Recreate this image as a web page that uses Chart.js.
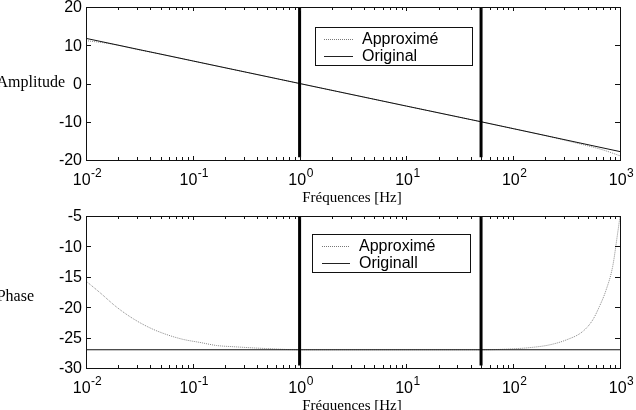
<!DOCTYPE html>
<html>
<head>
<meta charset="utf-8">
<script src="https://cdn.jsdelivr.net/npm/chart.js@4/dist/chart.umd.min.js"></script>
<style>
html,body{margin:0;padding:0;background:#fff;overflow:hidden;}
.wrap{position:absolute;left:0;width:636px;height:205px;}
</style>
</head>
<body>
<div class="wrap" style="top:0"><canvas id="c1" width="636" height="205"></canvas></div>
<div class="wrap" style="top:205px"><canvas id="c2" width="636" height="205"></canvas></div>
<script>
// ---------- data ----------
const xTickExponents = [-2, -1, 0, 1, 2, 3];
const markerFreqs = [1, 50];

const ampTicks = [20, 10, 0, -10, -20];
const ampOrigFreq = [0.01, 0.1, 1, 10, 50, 100, 1000];
const ampOrigVal  = [11.8, 5.9, 0, -5.9, -10.0, -11.8, -17.8];
const ampApproxFreq = [0.01, 0.015, 0.02, 0.03, 0.05, 0.1, 1, 10, 50, 100, 200, 300, 500, 700, 1000];
const ampApproxVal  = [11.2, 10.6, 10.0, 8.9, 7.7, 5.9, 0, -5.9, -10.0, -11.8, -13.6, -14.8, -16.3, -17.4, -18.9];

const phaseTicks = [-5, -10, -15, -20, -25, -30];
const phaseOrigFreq = [0.01, 1000];
const phaseOrigVal  = [-27, -27];
const phaseApproxFreq = [0.01, 0.0135, 0.0194, 0.0277, 0.0397, 0.0569, 0.0815, 0.117, 0.167, 0.24, 0.49, 1, 10, 50, 86, 152, 218, 312, 447, 555, 641, 740, 854, 951, 1000];
const phaseApproxVal  = [-15.7, -17.6, -20.0, -21.9, -23.4, -24.5, -25.3, -25.8, -26.3, -26.5, -26.8, -27, -27, -27, -26.9, -26.6, -26.2, -25.4, -24.0, -22.1, -19.9, -17.2, -13.3, -7.8, -5.1];

const legendLabelsTop = ['Approximé', 'Original'];
const legendLabelsBottom = ['Approximé', 'Originall'];

// ---------- helpers ----------
const pts = (xs, ys) => xs.map((x, i) => ({x: x, y: ys[i]}));
const SANS = '"Liberation Sans", Arial, sans-serif';
const SERIF = '"Liberation Serif", "Times New Roman", serif';

function markerDatasets(yTop, yBot) {
  return markerFreqs.map(f => ({
    data: [{x: f, y: yTop}, {x: f, y: yBot}],
    borderColor: '#000', borderWidth: 3, pointRadius: 0, order: 0
  }));
}

function framePlugin(cfg) {
  return {
    id: 'frame_' + cfg.id,
    afterDraw(chart) {
      const ctx = chart.ctx;
      const a = chart.chartArea;
      const xs = chart.scales.x, ys = chart.scales.y;
      ctx.save();
      ctx.strokeStyle = '#111';
      ctx.lineWidth = 1;
      // frame
      ctx.strokeRect(Math.round(a.left) + 0.5, Math.round(a.top) + 0.5, Math.round(a.right - a.left), Math.round(a.bottom - a.top));
      // x ticks (log major + minor), inward top & bottom
      ctx.beginPath();
      for (let e = -2; e <= 3; e++) {
        for (let m = 1; m <= 9; m++) {
          const v = m * Math.pow(10, e);
          if (v > 1000 + 1e-9) break;
          const px = Math.round(xs.getPixelForValue(v)) + 0.5;
          const len = (m === 1) ? 4 : 3;
          ctx.moveTo(px, a.bottom); ctx.lineTo(px, a.bottom - len);
          ctx.moveTo(px, a.top); ctx.lineTo(px, a.top + len);
        }
      }
      // y ticks, inward left & right
      cfg.yTicks.forEach(t => {
        const py = Math.round(ys.getPixelForValue(t)) + 0.5;
        ctx.moveTo(a.left, py); ctx.lineTo(a.left + 5, py);
        ctx.moveTo(a.right, py); ctx.lineTo(a.right - 5, py);
      });
      ctx.stroke();

      ctx.fillStyle = '#000';
      // y tick labels
      ctx.font = '16px ' + SANS;
      ctx.textAlign = 'right';
      ctx.textBaseline = 'middle';
      cfg.yTicks.forEach(t => {
        ctx.fillText(String(t), a.left - 4, ys.getPixelForValue(t) + 1);
      });
      // x tick labels 10^e
      ctx.textBaseline = 'alphabetic';
      ctx.textAlign = 'left';
      xTickExponents.forEach(e => {
        const px = xs.getPixelForValue(Math.pow(10, e));
        ctx.font = '16px ' + SANS;
        const w1 = ctx.measureText('10').width;
        ctx.font = '12px ' + SANS;
        const sup = String(e);
        const w2 = ctx.measureText(sup).width;
        const x0 = px - (w1 + w2) / 2 + 1;
        ctx.font = '16px ' + SANS;
        ctx.fillText('10', x0, a.bottom + 25);
        ctx.font = '12px ' + SANS;
        ctx.fillText(sup, x0 + w1 + 0.5, a.bottom + 17);
      });
      // axis labels
      ctx.font = '15px ' + SERIF;
      ctx.textAlign = 'center';
      ctx.fillText('Fréquences [Hz]', 352, a.bottom + 42);
      ctx.font = '16px ' + SERIF;
      ctx.textAlign = 'right';
      ctx.textBaseline = 'middle';
      ctx.fillText(cfg.yLabel, cfg.yLabelX, cfg.yLabelY);

      // legend
      const L = cfg.legend;
      ctx.fillStyle = '#fff';
      ctx.fillRect(L.x, L.y, L.w, L.h);
      ctx.strokeStyle = '#111';
      ctx.strokeRect(L.x + 0.5, L.y + 0.5, L.w, L.h);
      ctx.font = '16px ' + SANS;
      ctx.textAlign = 'left';
      ctx.textBaseline = 'middle';
      ctx.fillStyle = '#000';
      L.labels.forEach((lab, i) => {
        const yy = L.rowY[i];
        ctx.beginPath();
        if (i === 0) { ctx.setLineDash([1, 1]); ctx.strokeStyle = '#777'; }
        else { ctx.setLineDash([]); ctx.strokeStyle = '#222'; }
        ctx.moveTo(L.lineX0, Math.round(yy) + 0.5);
        ctx.lineTo(L.lineX1, Math.round(yy) + 0.5);
        ctx.stroke();
        ctx.setLineDash([]);
        ctx.fillText(lab, L.textX, yy + 1);
      });
      ctx.restore();
    }
  };
}

function makeChart(canvasId, cfg) {
  return new Chart(document.getElementById(canvasId), {
    type: 'line',
    data: {
      datasets: [
        ...markerDatasets(cfg.markerTop, cfg.markerBot),
        { data: pts(cfg.origF, cfg.origV), borderColor: '#111', borderWidth: 1, pointRadius: 0, order: 1 },
        { data: pts(cfg.apprF, cfg.apprV), borderColor: '#888', borderWidth: 1, borderDash: [1, 1], pointRadius: 0, cubicInterpolationMode: 'monotone', order: 2 }
      ]
    },
    options: {
      responsive: false,
      animation: false,
      events: [],
      parsing: true,
      layout: { padding: cfg.padding },
      plugins: { legend: { display: false }, tooltip: { enabled: false } },
      scales: {
        x: { type: 'logarithmic', min: 0.01, max: 1000, display: false },
        y: { type: 'linear', min: cfg.yMin, max: cfg.yMax, display: false }
      }
    },
    plugins: [framePlugin(cfg)]
  });
}

makeChart('c1', {
  id: 'amp',
  padding: { left: 86, right: 16, top: 7, bottom: 45 },
  yMin: -20, yMax: 20, yTicks: ampTicks,
  markerTop: 20, markerBot: -19.3,
  origF: ampOrigFreq, origV: ampOrigVal,
  apprF: ampApproxFreq, apprV: ampApproxVal,
  yLabel: 'Amplitude', yLabelX: 65, yLabelY: 83,
  legend: { x: 315, y: 27, w: 157, h: 38, labels: legendLabelsTop, rowY: [39, 56], lineX0: 324, lineX1: 353, textX: 362 }
});

makeChart('c2', {
  id: 'phase',
  padding: { left: 86, right: 16, top: 11, bottom: 42 },
  yMin: -30, yMax: -5, yTicks: phaseTicks,
  markerTop: -5.1, markerBot: -29.6,
  origF: phaseOrigFreq, origV: phaseOrigVal,
  apprF: phaseApproxFreq, apprV: phaseApproxVal,
  yLabel: 'Phase', yLabelX: 34, yLabelY: 92,
  legend: { x: 312, y: 29, w: 158, h: 38, labels: legendLabelsBottom, rowY: [41, 57.5], lineX0: 322, lineX1: 350, textX: 359 }
});
</script>
</body>
</html>
